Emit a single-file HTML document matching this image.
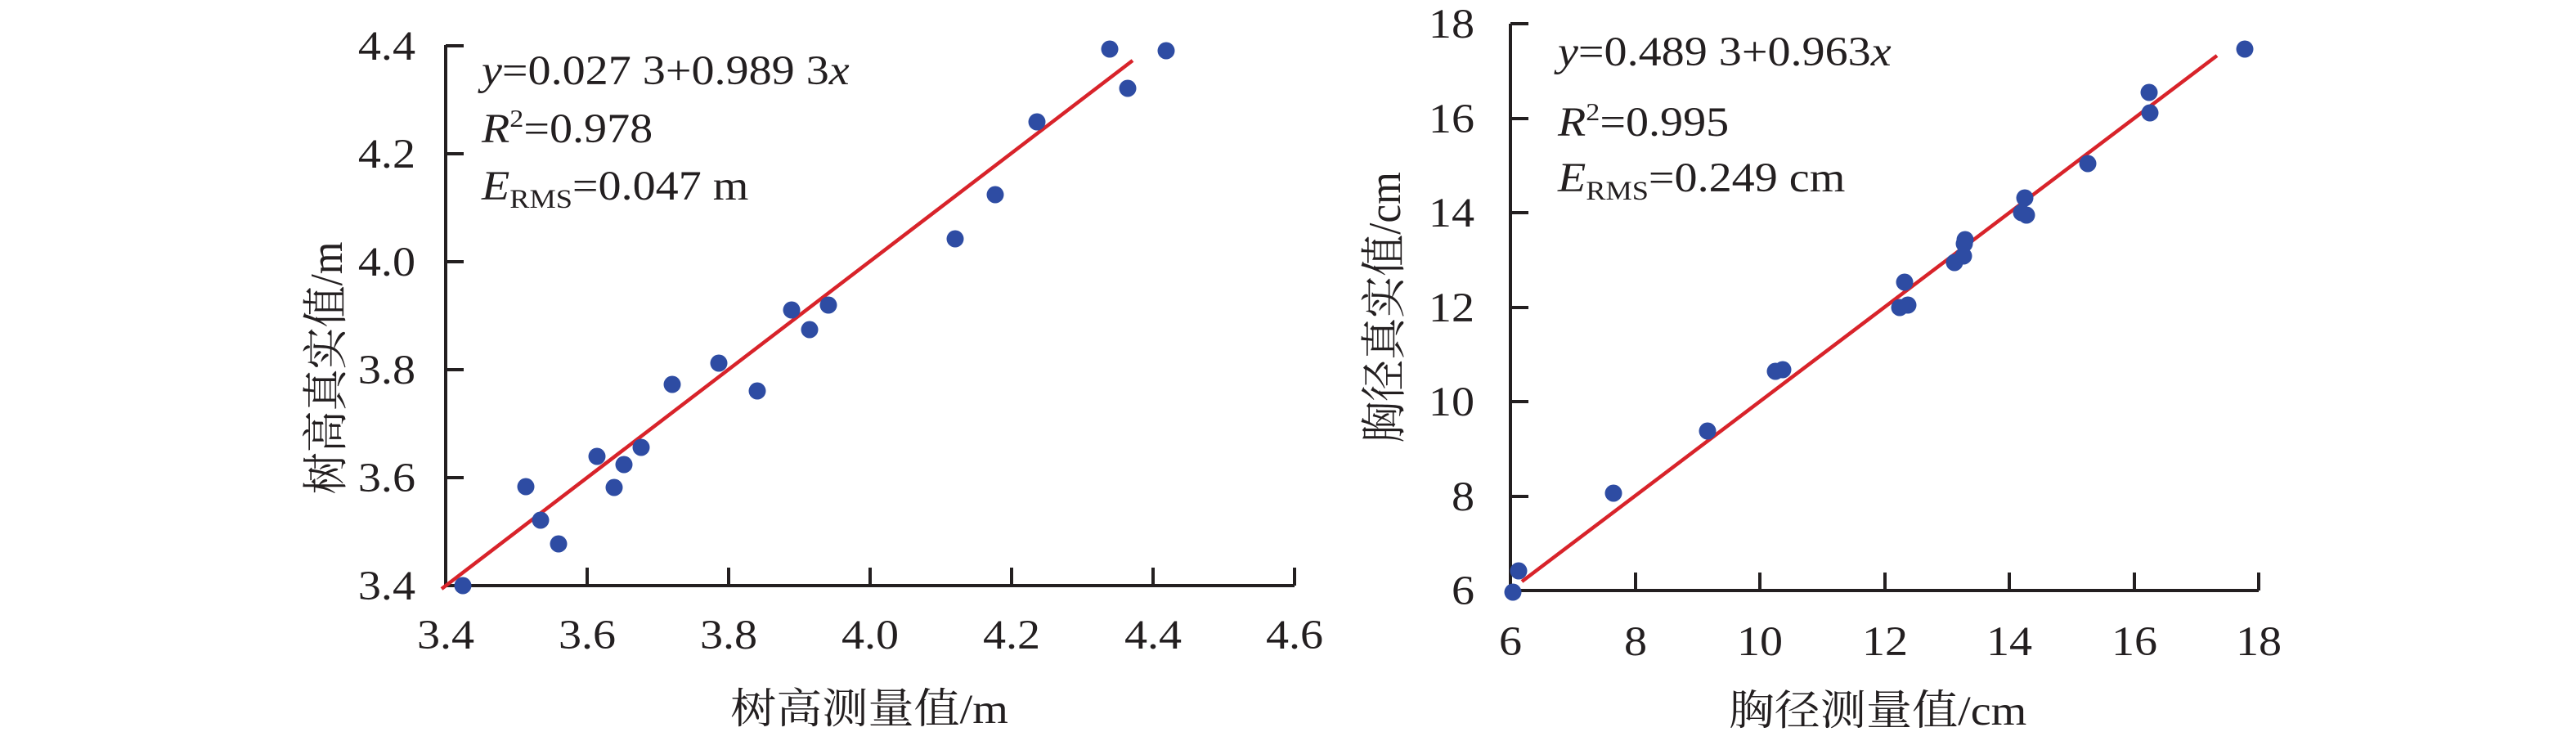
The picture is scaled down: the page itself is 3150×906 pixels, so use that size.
<!DOCTYPE html>
<html><head><meta charset="utf-8"><style>
html,body{margin:0;padding:0;background:#fff;}
svg{display:block;}
text{font-family:"Liberation Serif","Noto Serif CJK SC","Noto Sans CJK SC",serif;fill:#231f20;}
</style></head><body>
<svg width="3150" height="906" viewBox="0 0 3150 906" xmlns="http://www.w3.org/2000/svg">
<g stroke="#231f20" stroke-width="4" fill="none">
<path d="M545,55 V716 H1583"/>
<path d="M545,56 h22 M545,188 h22 M545,320 h22 M545,452 h22 M545,584 h22"/>
<path d="M718,716 v-22 M891,716 v-22 M1064,716 v-22 M1237,716 v-22 M1410,716 v-22 M1583,716 v-22"/>
<path d="M1847,29 V722 H2762"/>
<path d="M1847,29 h22 M1847,145 h22 M1847,260 h22 M1847,376 h22 M1847,491 h22 M1847,607 h22"/>
<path d="M2000,722 v-22 M2152,722 v-22 M2305,722 v-22 M2457,722 v-22 M2610,722 v-22 M2762,722 v-22"/>
</g>
<g stroke="#d8232a" stroke-width="4.5">
<line x1="540" y1="720" x2="1385" y2="74"/>
<line x1="1861" y1="711" x2="2711" y2="68"/>
</g>
<g fill="#2e4ca3">
<circle cx="1357" cy="60" r="10.5"/><circle cx="1426" cy="62" r="10.5"/><circle cx="1379" cy="108" r="10.5"/>
<circle cx="1268" cy="149" r="10.5"/><circle cx="1217" cy="238" r="10.5"/><circle cx="1168" cy="292" r="10.5"/>
<circle cx="1013" cy="373" r="10.5"/><circle cx="968" cy="379" r="10.5"/><circle cx="990" cy="403" r="10.5"/>
<circle cx="879" cy="444" r="10.5"/><circle cx="822" cy="470" r="10.5"/><circle cx="926" cy="478" r="10.5"/>
<circle cx="730" cy="558" r="10.5"/><circle cx="784" cy="547" r="10.5"/><circle cx="763" cy="568" r="10.5"/>
<circle cx="643" cy="595" r="10.5"/><circle cx="751" cy="596" r="10.5"/><circle cx="661" cy="636" r="10.5"/>
<circle cx="683" cy="665" r="10.5"/><circle cx="566" cy="716" r="10.5"/>
<circle cx="2745" cy="60" r="10.5"/><circle cx="2628" cy="113" r="10.5"/><circle cx="2629" cy="138" r="10.5"/>
<circle cx="2553" cy="200" r="10.5"/><circle cx="2476" cy="242" r="10.5"/><circle cx="2472" cy="260" r="10.5"/>
<circle cx="2478" cy="263" r="10.5"/><circle cx="2403" cy="293" r="10.5"/><circle cx="2402" cy="298" r="10.5"/>
<circle cx="2401" cy="313" r="10.5"/><circle cx="2390" cy="321" r="10.5"/><circle cx="2329" cy="345" r="10.5"/>
<circle cx="2323" cy="376" r="10.5"/><circle cx="2333" cy="373" r="10.5"/><circle cx="2171" cy="454" r="10.5"/>
<circle cx="2180" cy="452" r="10.5"/><circle cx="2088" cy="527" r="10.5"/><circle cx="1973" cy="603" r="10.5"/>
<circle cx="1857" cy="698" r="10.5"/><circle cx="1850" cy="724" r="10.5"/>
</g>
<g font-size="51">
<g text-anchor="end">
<text transform="translate(508,73) scale(1.1,1)">4.4</text>
<text transform="translate(508,205) scale(1.1,1)">4.2</text>
<text transform="translate(508,337) scale(1.1,1)">4.0</text>
<text transform="translate(508,469) scale(1.1,1)">3.8</text>
<text transform="translate(508,601) scale(1.1,1)">3.6</text>
<text transform="translate(508,733) scale(1.1,1)">3.4</text>
<text transform="translate(1803,46) scale(1.1,1)">18</text>
<text transform="translate(1803,162) scale(1.1,1)">16</text>
<text transform="translate(1803,277) scale(1.1,1)">14</text>
<text transform="translate(1803,393) scale(1.1,1)">12</text>
<text transform="translate(1803,508) scale(1.1,1)">10</text>
<text transform="translate(1803,624) scale(1.1,1)">8</text>
<text transform="translate(1803,739) scale(1.1,1)">6</text>
</g>
<g text-anchor="middle">
<text transform="translate(545,793) scale(1.1,1)">3.4</text>
<text transform="translate(718,793) scale(1.1,1)">3.6</text>
<text transform="translate(891,793) scale(1.1,1)">3.8</text>
<text transform="translate(1064,793) scale(1.1,1)">4.0</text>
<text transform="translate(1237,793) scale(1.1,1)">4.2</text>
<text transform="translate(1410,793) scale(1.1,1)">4.4</text>
<text transform="translate(1583,793) scale(1.1,1)">4.6</text>
<text transform="translate(1847,801) scale(1.1,1)">6</text>
<text transform="translate(2000,801) scale(1.1,1)">8</text>
<text transform="translate(2152,801) scale(1.1,1)">10</text>
<text transform="translate(2305,801) scale(1.1,1)">12</text>
<text transform="translate(2457,801) scale(1.1,1)">14</text>
<text transform="translate(2610,801) scale(1.1,1)">16</text>
<text transform="translate(2762,801) scale(1.1,1)">18</text>
<text transform="translate(1063,884) scale(1.1,1)">树高测量值/m</text>
<text transform="translate(2296,886) scale(1.1,1)">胸径测量值/cm</text>
<text transform="translate(418,450) scale(1.1,1) rotate(-90)">树高真实值/m</text>
<text transform="translate(1712,376) scale(1.1,1) rotate(-90)">胸径真实值/cm</text>
</g>
<text transform="translate(589,103) scale(1.1,1)"><tspan font-style="italic">y</tspan>=0.027 3+0.989 3<tspan font-style="italic">x</tspan></text>
<text transform="translate(589,174) scale(1.1,1)"><tspan font-style="italic">R</tspan><tspan font-size="31" dy="-19">2</tspan><tspan dy="19">=0.978</tspan></text>
<text transform="translate(589,244) scale(1.1,1)"><tspan font-style="italic">E</tspan><tspan font-size="33" dy="10">RMS</tspan><tspan dy="-10">=0.047 m</tspan></text>
<text transform="translate(1905,80) scale(1.1,1)"><tspan font-style="italic">y</tspan>=0.489 3+0.963<tspan font-style="italic">x</tspan></text>
<text transform="translate(1905,166) scale(1.1,1)"><tspan font-style="italic">R</tspan><tspan font-size="31" dy="-19">2</tspan><tspan dy="19">=0.995</tspan></text>
<text transform="translate(1905,234) scale(1.1,1)"><tspan font-style="italic">E</tspan><tspan font-size="33" dy="10">RMS</tspan><tspan dy="-10">=0.249 cm</tspan></text>
</g>
</svg>
</body></html>
